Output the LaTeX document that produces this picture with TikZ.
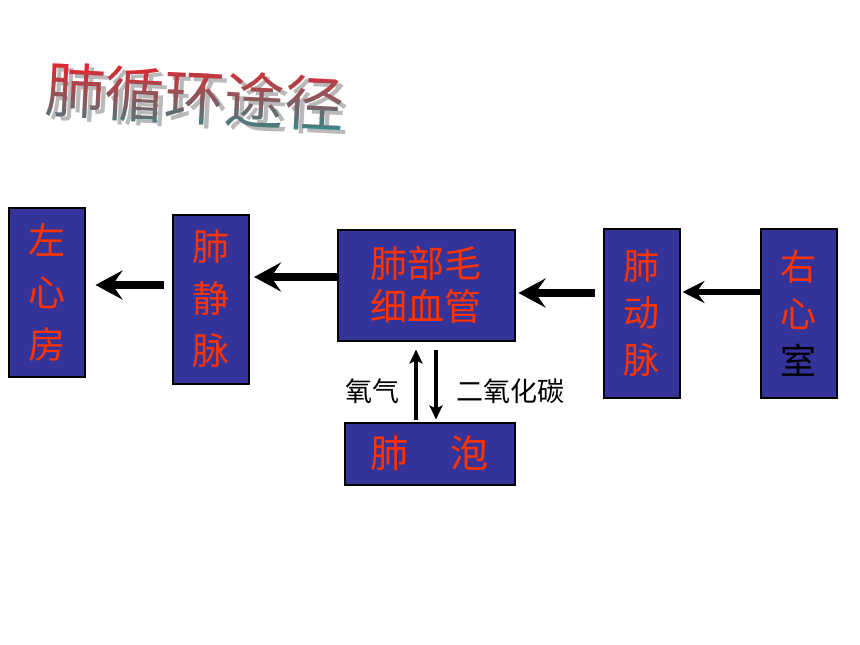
\documentclass[tikz,border=0pt]{standalone}
\usepackage{fontspec}
\setmainfont{Noto Sans CJK SC}
\usepackage{tikz}
\usetikzlibrary{arrows.meta}
\definecolor{boxblue}{RGB}{51,51,153}
\definecolor{boxred}{RGB}{255,51,0}
\definecolor{tred}{RGB}{240,30,40}
\definecolor{tteal}{RGB}{30,150,150}
\tikzstyle{organ} = [draw=black, line width=2pt, fill=boxblue, text=boxred, align=center, inner sep=0pt]
\tikzstyle{tall} = [organ, minimum width=76pt, minimum height=169pt, font=\fontsize{37}{52}\selectfont]
\tikzstyle{heading} = [font=\fontsize{60}{60}\selectfont, rotate=-3, inner sep=0pt]
\tikzstyle{flow} = [line width=8.5pt, -{Stealth[length=27pt,width=29pt,inset=10pt]}]
\tikzstyle{thinflow} = [line width=6pt, -{Stealth[length=22pt,width=22pt,inset=8pt]}]
\tikzstyle{gas} = [line width=3.5pt, -{Stealth[length=14pt,width=13pt,inset=3pt]}]
\tikzstyle{gaslabel} = [font=\fontsize{27}{27}\selectfont, inner sep=0pt]

\begin{document}
\begin{tikzpicture}[x=1pt,y=-1pt]
    \useasboundingbox[fill=white] (0,0) rectangle (860,645);
    % title
    \node[heading, text=gray!55] (shadow) at (200,101) {肺循环途径};
    \foreach \i in {0,...,9} {
      \pgfmathtruncatemacro\p{100-\i*11}
      \begin{scope}
        \clip (30,55+\i*9) rectangle (370,64.5+\i*9);
        \node[heading, text=tred!\p!tteal] (title\i) at (195,97) {肺循环途径};
      \end{scope}
    }
    % boxes
    \node[tall] (zuo) at (46.5,292) {左\\心\\房};
    \node[tall] (jingmai) at (211,299) {肺\\静\\脉};
    \node[organ, minimum width=177pt, minimum height=111pt, font=\fontsize{37}{43}\selectfont] (mao) at (426,285) {肺部毛\\细血管};
    \node[tall, font=\fontsize{36}{47}\selectfont] (dongmai) at (641.5,313.5) {肺\\动\\脉};
    \node[tall, font=\fontsize{36}{47}\selectfont] (you) at (798.5,313.5) {右\\心\\\textcolor{black}{室}};
    \node[organ, minimum width=170pt, minimum height=62pt, font=\fontsize{38}{38}\selectfont] (pao) at (429.5,453.5) {肺\hspace{1.1em}泡};
    % blood flow
    \draw[flow, shorten <=8pt, shorten >=10pt] ([yshift=14pt]jingmai.west) -- ([yshift=7pt]zuo.east);
    \draw[flow, shorten >=4pt] ([yshift=8pt]mao.west) -- ([yshift=22pt]jingmai.east);
    \draw[flow, shorten <=8pt, shorten >=3pt] ([yshift=20.5pt]dongmai.west) -- ([yshift=-8pt]mao.east);
    \draw[thinflow, shorten >=2pt] ([yshift=21.5pt]you.west) -- ([yshift=21.5pt]dongmai.east);
    % gas exchange
    \draw[gas, shorten <=2pt, shorten >=8pt] ([xshift=-13.5pt]pao.north) -- ([xshift=-10pt]mao.south);
    \draw[gas, shorten <=8pt, shorten >=2pt] ([xshift=10pt]mao.south) -- ([xshift=6.5pt]pao.north);
    \node[gaslabel] (o2) at (372,391) {氧气};
    \node[gaslabel] (co2) at (510,391) {二氧化碳};
\end{tikzpicture}
\end{document}
